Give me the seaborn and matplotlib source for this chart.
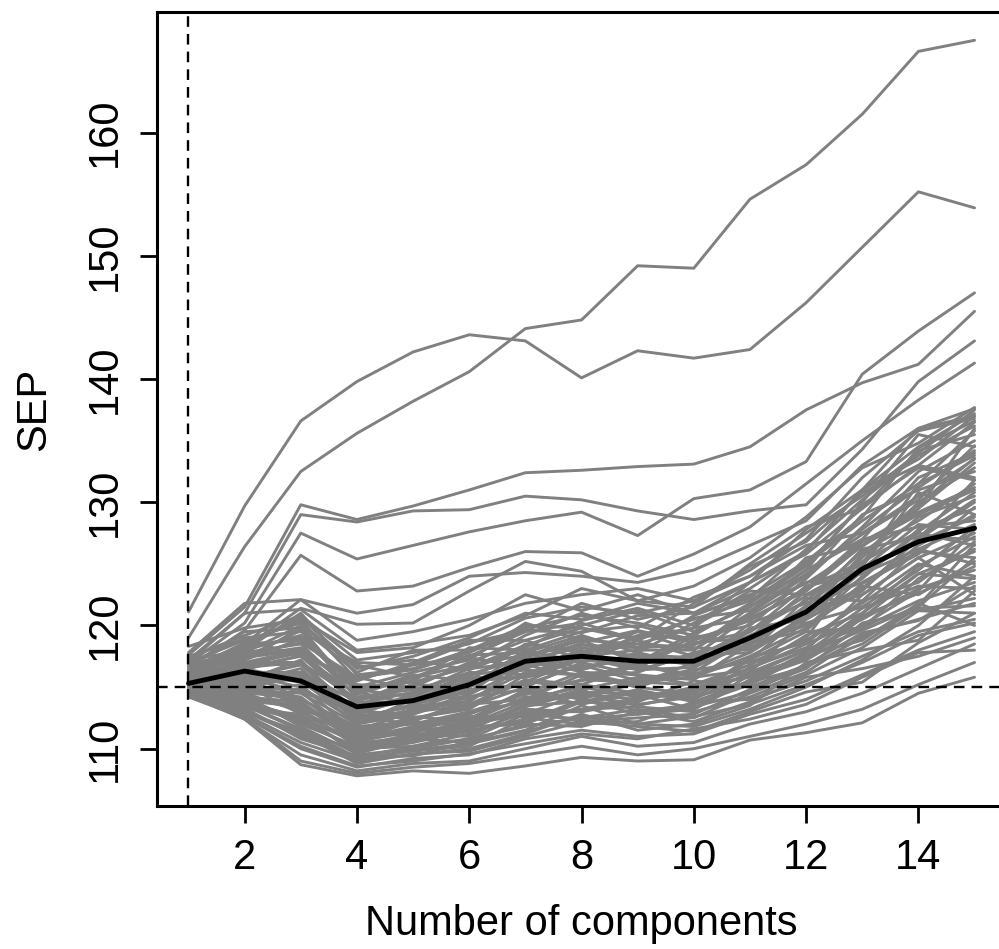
import matplotlib
matplotlib.use("Agg")
import matplotlib.pyplot as plt
import seaborn as sns
import pandas as pd

# number of PLS components on the x axis
ncomp = list(range(1, 16))

# SEP curves of the repeated double cross validation (one list per repetition)
upper_curves = [
    [119.0, 126.4, 132.5, 135.6, 138.2, 140.6, 144.1, 144.8, 149.2, 149.0, 154.6, 157.4, 161.5, 166.6, 167.5],
    [121.1, 129.7, 136.6, 139.8, 142.2, 143.6, 143.1, 140.1, 142.3, 141.7, 142.4, 146.2, 150.7, 155.2, 153.9],
    [117.6, 121.5, 129.8, 128.6, 129.7, 131.0, 132.4, 132.6, 132.9, 133.1, 134.5, 137.5, 139.7, 141.2, 145.5],
    [117.2, 121.0, 129.0, 128.4, 129.3, 129.4, 130.5, 130.2, 129.3, 128.6, 129.3, 129.8, 134.3, 139.8, 143.1],
    [116.9, 120.2, 127.5, 125.4, 126.5, 127.6, 128.5, 129.2, 127.3, 130.3, 131.0, 133.3, 140.4, 143.9, 147.0],
    [116.6, 119.6, 125.7, 122.8, 123.2, 124.7, 126.0, 125.9, 124.0, 125.8, 128.0, 131.5, 135.0, 138.3, 141.3],
    [116.3, 118.5, 122.1, 121.0, 121.7, 124.0, 124.3, 124.0, 123.5, 124.5, 126.5, 128.5, 133.0, 136.0, 137.6],
    [116.0, 118.2, 121.4, 120.1, 120.2, 122.8, 125.2, 124.4, 122.0, 121.5, 123.5, 126.0, 131.0, 134.5, 137.2],
    [117.8, 121.8, 122.1, 118.8, 119.5, 120.5, 121.8, 122.5, 123.0, 122.0, 124.0, 127.0, 132.0, 135.8, 136.8],
    [117.0, 121.0, 121.3, 118.0, 118.5, 119.2, 120.8, 123.0, 122.0, 123.2, 125.5, 128.8, 132.8, 134.8, 137.7],
    [118.3, 119.8, 120.5, 117.8, 118.2, 120.0, 122.5, 121.2, 122.5, 121.0, 123.5, 125.8, 129.5, 134.2, 135.5],
    [116.7, 119.5, 119.8, 116.2, 118.0, 118.0, 119.5, 120.2, 118.8, 121.8, 124.8, 126.8, 130.8, 133.0, 132.0],
]

high_curves = [
    [117.4, 119.2, 120.8, 117.2, 117.8, 118.5, 120.6, 121.5, 121.0, 122.0, 124.5, 127.5, 130.5, 134.0, 137.5],
    [117.0, 118.8, 120.2, 116.5, 117.5, 119.0, 121.0, 120.5, 121.8, 121.0, 123.0, 126.0, 131.0, 136.0, 137.0],
    [116.8, 119.0, 119.5, 117.0, 116.8, 117.5, 119.5, 121.8, 120.5, 121.5, 125.0, 128.0, 129.5, 133.0, 136.5],
    [117.2, 118.0, 121.0, 116.0, 116.5, 118.0, 120.0, 119.8, 119.0, 120.5, 122.0, 125.0, 128.5, 131.5, 135.8],
    [116.5, 118.5, 118.8, 115.5, 117.0, 118.8, 118.8, 120.0, 121.2, 119.5, 121.5, 124.5, 130.0, 135.5, 134.5],
    [116.9, 117.8, 120.0, 116.8, 115.8, 116.8, 119.2, 121.0, 119.8, 122.3, 124.0, 126.5, 127.5, 130.5, 133.5],
    [116.2, 118.2, 119.0, 115.0, 116.2, 117.2, 120.2, 118.8, 118.5, 119.8, 123.5, 127.8, 131.0, 133.5, 137.0],
    [116.7, 117.5, 118.2, 114.8, 115.5, 118.2, 118.0, 119.5, 120.0, 118.8, 120.5, 123.0, 127.0, 132.0, 134.0],
    [117.5, 118.9, 117.5, 115.8, 114.8, 116.0, 117.5, 119.0, 118.2, 120.8, 122.5, 124.0, 129.0, 131.0, 132.5],
    [116.4, 117.2, 119.8, 114.5, 116.0, 115.5, 118.5, 117.8, 119.5, 118.0, 121.0, 125.5, 126.5, 129.5, 136.0],
    [116.2, 118.0, 119.2, 115.2, 115.0, 117.0, 118.8, 117.2, 119.2, 119.0, 120.0, 123.8, 128.0, 132.5, 135.0],
    [116.3, 117.4, 118.0, 113.8, 115.6, 117.6, 117.8, 119.2, 117.8, 120.2, 122.8, 122.5, 125.0, 131.5, 133.8],
    [115.6, 116.9, 116.8, 114.6, 113.6, 115.0, 116.8, 118.6, 119.6, 118.6, 119.0, 121.2, 124.8, 130.8, 129.0],
    [116.5, 117.6, 118.6, 115.8, 116.4, 117.8, 119.8, 120.8, 120.2, 119.2, 121.8, 124.8, 129.8, 132.8, 131.8],
    [116.1, 118.4, 120.6, 116.6, 117.2, 116.4, 118.2, 120.4, 121.4, 120.0, 122.4, 125.2, 128.8, 134.4, 136.6],
    [116.0, 117.4, 119.6, 114.0, 115.2, 116.8, 117.6, 118.4, 118.2, 118.4, 121.0, 124.0, 127.8, 131.2, 134.2],
    [116.4, 118.6, 120.4, 115.6, 116.8, 118.6, 119.6, 119.4, 120.8, 121.0, 122.2, 126.2, 130.2, 133.8, 136.2],
    [115.8, 117.0, 118.0, 114.8, 114.2, 116.0, 117.4, 118.8, 117.0, 119.4, 121.6, 123.4, 126.4, 129.8, 133.6],
]

mid_curves = [
    [116.0, 117.0, 117.0, 114.0, 114.5, 116.5, 117.0, 118.5, 117.2, 118.5, 119.5, 122.0, 126.0, 128.5, 131.5],
    [115.8, 116.8, 117.8, 113.5, 115.2, 115.0, 118.0, 117.0, 118.8, 117.5, 120.8, 123.5, 124.5, 127.0, 130.0],
    [115.5, 116.2, 116.2, 113.8, 113.8, 116.0, 116.5, 118.0, 116.5, 119.2, 118.5, 121.5, 125.5, 130.0, 132.8],
    [116.1, 115.8, 116.8, 112.8, 114.2, 114.5, 117.8, 116.5, 117.8, 116.8, 119.8, 120.5, 123.0, 126.5, 129.0],
    [115.3, 116.5, 115.5, 113.0, 112.8, 115.5, 115.8, 117.5, 118.0, 118.0, 121.5, 124.5, 127.0, 128.0, 128.5],
    [115.7, 115.5, 117.2, 112.5, 113.5, 113.8, 116.8, 115.8, 116.2, 117.8, 118.8, 121.0, 122.5, 125.5, 127.5],
    [115.0, 116.0, 115.0, 112.2, 113.2, 114.8, 115.2, 116.8, 115.5, 116.2, 119.0, 122.8, 126.5, 129.0, 131.0],
    [115.9, 115.2, 116.0, 113.2, 112.5, 113.2, 116.0, 117.2, 116.8, 115.8, 117.5, 119.8, 124.0, 127.5, 126.5],
    [115.2, 114.8, 114.5, 112.0, 114.0, 114.2, 114.8, 115.5, 117.0, 117.2, 118.2, 120.2, 121.5, 124.5, 128.0],
    [115.6, 116.3, 114.0, 111.8, 112.2, 114.0, 116.2, 116.0, 115.0, 116.5, 120.2, 121.8, 123.5, 126.0, 125.5],
    [115.4, 115.0, 115.8, 112.6, 112.0, 112.8, 114.5, 116.2, 116.0, 115.2, 116.8, 119.0, 125.0, 128.8, 130.5],
    [114.9, 115.6, 113.5, 111.5, 113.0, 113.5, 115.5, 114.8, 115.8, 116.0, 117.8, 122.2, 122.0, 123.5, 126.8],
    [116.0, 117.8, 118.5, 114.2, 114.8, 115.2, 117.2, 118.2, 117.5, 117.0, 119.2, 121.2, 123.8, 127.8, 129.5],
    [115.5, 116.6, 117.5, 113.6, 114.6, 116.2, 116.0, 117.8, 118.5, 118.2, 118.0, 120.8, 125.8, 129.5, 133.2],
    [115.2, 115.4, 116.5, 112.4, 113.6, 114.6, 117.5, 116.2, 115.2, 117.0, 119.5, 123.2, 124.2, 126.2, 128.2],
    [114.9, 115.0, 114.8, 112.8, 112.4, 113.4, 115.0, 117.0, 116.0, 115.6, 118.5, 120.0, 122.8, 127.2, 130.2],
    [115.4, 115.8, 114.6, 113.0, 114.4, 115.8, 115.8, 116.6, 117.4, 116.8, 118.4, 121.6, 126.2, 127.2, 127.0],
    [115.7, 117.2, 118.9, 115.0, 115.4, 116.6, 118.4, 119.8, 118.8, 120.6, 121.2, 124.2, 127.4, 130.2, 134.6],
    [115.9, 116.4, 117.6, 114.4, 115.8, 117.4, 116.6, 117.6, 119.0, 119.8, 120.6, 122.8, 126.8, 129.2, 131.2],
    [115.4, 116.0, 116.0, 113.2, 114.0, 115.2, 117.0, 116.4, 117.6, 117.4, 119.6, 122.4, 124.6, 128.2, 127.8],
    [115.0, 115.6, 115.6, 112.0, 112.8, 114.2, 115.4, 117.4, 116.4, 116.6, 118.6, 119.6, 123.4, 125.8, 129.6],
    [115.6, 116.6, 117.0, 113.0, 114.0, 115.6, 116.4, 116.0, 116.6, 118.8, 120.4, 123.0, 125.2, 127.6, 130.8],
    [115.3, 115.3, 116.2, 112.2, 113.0, 114.4, 116.6, 117.8, 116.4, 117.6, 117.8, 120.6, 124.4, 126.8, 128.8],
    [115.5, 116.1, 115.4, 112.6, 113.4, 113.6, 115.6, 115.2, 116.8, 116.0, 117.2, 121.0, 123.0, 127.0, 131.8],
]

low_curves = [
    [115.1, 114.5, 113.0, 111.0, 111.5, 112.5, 114.0, 115.0, 114.2, 114.8, 116.5, 118.5, 120.5, 123.0, 124.5],
    [114.8, 114.2, 113.8, 110.8, 112.2, 111.8, 113.5, 113.8, 114.8, 113.8, 115.5, 117.8, 121.0, 124.8, 127.2],
    [115.0, 113.8, 112.5, 110.5, 110.8, 112.0, 112.8, 114.5, 113.5, 114.5, 117.2, 119.5, 119.8, 122.0, 123.5],
    [114.6, 114.0, 112.0, 110.2, 111.2, 111.0, 113.2, 113.0, 113.8, 115.5, 115.0, 116.8, 118.5, 121.5, 125.5],
    [114.7, 113.5, 111.5, 109.8, 110.5, 111.5, 112.2, 114.0, 112.8, 113.2, 116.0, 118.0, 122.5, 125.5, 122.5],
    [114.5, 113.2, 112.8, 109.5, 110.0, 110.8, 111.8, 112.5, 113.2, 112.5, 114.5, 116.2, 119.2, 120.5, 121.8],
    [114.9, 113.0, 111.0, 109.2, 109.8, 110.2, 112.5, 112.0, 112.2, 113.8, 114.0, 115.5, 117.5, 119.5, 120.5],
    [114.4, 112.8, 110.5, 109.0, 109.5, 110.0, 111.2, 112.8, 111.5, 112.0, 113.5, 117.0, 118.0, 118.8, 122.8],
    [114.6, 112.6, 110.0, 108.5, 109.2, 109.5, 110.8, 111.5, 111.0, 111.2, 112.8, 114.0, 116.0, 118.0, 119.5],
    [114.3, 112.4, 109.5, 108.2, 108.8, 109.0, 110.0, 111.0, 110.2, 110.5, 112.0, 113.0, 114.5, 116.5, 118.5],
    [114.5, 112.4, 108.7, 107.8, 108.2, 108.0, 108.6, 109.3, 109.0, 109.1, 110.7, 111.3, 112.1, 114.5, 115.8],
    [114.2, 112.5, 109.0, 108.0, 108.5, 108.8, 109.5, 110.2, 109.5, 110.0, 111.0, 112.0, 113.2, 115.2, 117.0],
    [115.3, 114.6, 115.2, 111.2, 112.6, 112.2, 114.2, 114.2, 115.6, 116.4, 117.0, 118.8, 121.8, 125.0, 124.0],
    [115.8, 116.0, 113.2, 111.6, 111.2, 113.0, 113.8, 115.2, 114.5, 114.0, 116.2, 120.5, 123.2, 122.5, 125.2],
    [114.8, 114.8, 114.2, 110.8, 111.8, 112.6, 112.6, 113.2, 114.0, 115.0, 115.8, 117.2, 119.8, 123.8, 126.2],
    [115.0, 113.6, 112.2, 110.0, 110.2, 111.2, 113.0, 112.2, 112.5, 112.8, 114.8, 116.5, 120.2, 121.2, 121.0],
    [114.6, 114.3, 111.8, 109.6, 110.8, 110.5, 111.5, 113.5, 112.0, 111.8, 113.2, 115.0, 117.2, 120.0, 124.0],
    [114.7, 113.3, 110.8, 109.4, 109.4, 110.6, 112.0, 111.8, 113.0, 112.2, 113.8, 115.8, 116.5, 117.5, 119.0],
    [114.8, 113.9, 113.4, 111.4, 111.0, 111.6, 113.6, 114.8, 113.0, 113.6, 115.2, 117.6, 118.8, 121.8, 120.0],
    [115.1, 115.2, 112.8, 110.6, 111.6, 112.8, 114.6, 113.6, 114.6, 114.2, 116.6, 118.2, 121.4, 123.2, 123.0],
    [114.5, 113.1, 111.2, 108.8, 109.6, 109.8, 111.0, 112.2, 111.8, 111.4, 113.0, 114.6, 115.4, 118.6, 121.0],
    [114.8, 114.6, 114.0, 111.6, 112.0, 113.0, 114.4, 115.6, 115.4, 115.8, 116.4, 119.2, 121.0, 124.2, 126.0],
    [115.2, 114.0, 113.6, 110.6, 111.4, 112.0, 113.8, 114.4, 114.0, 114.6, 116.0, 117.4, 120.8, 122.6, 124.8],
    [114.6, 113.4, 112.4, 109.9, 110.6, 111.4, 112.4, 113.2, 113.4, 113.0, 114.2, 116.0, 118.2, 121.2, 122.2],
    [114.4, 112.9, 111.4, 109.1, 109.9, 110.4, 111.4, 112.6, 112.0, 112.6, 113.6, 115.2, 117.0, 119.2, 120.2],
    [114.3, 112.6, 110.2, 108.6, 109.0, 109.6, 110.4, 111.2, 110.8, 111.6, 112.4, 113.6, 115.8, 117.8, 118.0],
    [114.9, 114.4, 114.6, 111.0, 112.4, 113.6, 114.0, 116.0, 115.0, 114.4, 117.4, 118.6, 122.0, 126.2, 125.0],
    [115.1, 114.9, 113.8, 110.4, 111.0, 112.4, 114.8, 114.0, 115.4, 115.2, 116.2, 118.0, 120.0, 122.8, 127.8],
    [114.7, 113.7, 112.6, 109.8, 110.8, 111.8, 112.0, 113.8, 113.6, 114.2, 115.4, 116.6, 119.0, 121.4, 121.6],
    [114.5, 113.6, 111.6, 109.3, 110.2, 110.8, 112.8, 112.4, 112.8, 113.4, 114.6, 116.8, 119.4, 120.4, 123.2],
    [115.0, 114.2, 113.2, 110.2, 110.6, 111.6, 113.4, 114.6, 114.4, 113.2, 115.6, 117.2, 120.6, 124.2, 123.8],
    [114.6, 114.1, 112.2, 110.0, 111.0, 112.2, 113.0, 113.0, 114.2, 114.8, 115.2, 117.8, 119.6, 121.6, 126.6],
]

# mean SEP over all repetitions
mean_sep = [115.3, 116.3, 115.5, 113.4, 113.9, 115.2, 117.1, 117.5, 117.1, 117.1, 119.0, 121.1, 124.6, 126.8, 127.9]

ref_ncomp = 1
ref_sep = 115.0


def build_frame():
    rows = []
    curves = upper_curves + high_curves + mid_curves + low_curves
    for rep, values in enumerate(curves):
        for a, sep in zip(ncomp, values):
            rows.append({"rep": rep, "ncomp": a, "sep": sep})
    return pd.DataFrame(rows)


def main():
    sns.set_style("ticks")
    plt.rcParams["font.family"] = ["Liberation Sans", "DejaVu Sans"]

    df = build_frame()

    fig = plt.figure(figsize=(9.99, 9.49), dpi=100)
    ax = fig.add_axes([0.1572, 0.1507, 0.8498, 0.8367])

    sns.lineplot(data=df, x="ncomp", y="sep", units="rep", estimator=None,
                 color="#808080", linewidth=2.1, ax=ax, legend=False)
    dash = (0, (4.5, 3))
    ax.axvline(ref_ncomp, color="black", linewidth=1.7, linestyle=dash)
    ax.axhline(ref_sep, color="black", linewidth=1.7, linestyle=dash)
    sns.lineplot(x=ncomp, y=mean_sep, color="black", linewidth=3.5, ax=ax)

    ax.set_xlim(0.44, 15.56)
    ax.set_ylim(105.35, 169.8)
    ax.set_xticks(range(2, 15, 2))
    ax.set_yticks(range(110, 161, 10))

    for side in ["left", "right", "top", "bottom"]:
        ax.spines[side].set_linewidth(2.2)
        ax.spines[side].set_color("black")
    ax.tick_params(axis="both", direction="out", length=12, width=2,
                   labelsize=30, colors="black", pad=11)
    for lab in ax.get_yticklabels():
        lab.set_rotation(90)
        lab.set_va("center")

    ax.set_xlabel("Number of components", fontsize=30, labelpad=19, color="black")
    ax.set_ylabel("SEP", fontsize=30, labelpad=22, color="black")

    fig.savefig("out.png", dpi=100)


if __name__ == "__main__":
    main()
